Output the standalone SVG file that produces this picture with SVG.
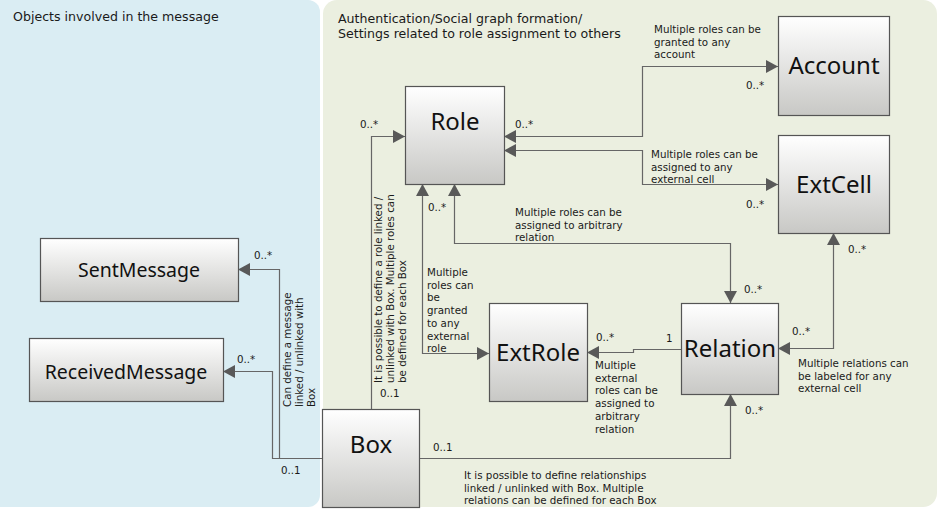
<svg xmlns="http://www.w3.org/2000/svg" width="937" height="512" viewBox="0 0 937 512">
<defs>
<linearGradient id="g" x1="0" y1="0" x2="0" y2="1">
<stop offset="0" stop-color="#ffffff"/>
<stop offset="1" stop-color="#c8c8c5"/>
</linearGradient>
<marker id="a" viewBox="0 0 12 13" refX="12" refY="6.5" markerWidth="12" markerHeight="13" markerUnits="userSpaceOnUse" orient="auto-start-reverse">
<path d="M0,0 L12,6.5 L0,13 z" fill="#595959"/>
</marker>
<style>
.n{fill:url(#g);stroke:#555;stroke-width:1.2}
.nl{font-family:"Noto Sans","DejaVu Sans",sans-serif;font-size:24px;fill:#111;text-anchor:middle}
.nm{font-size:19.5px}
.t{font-family:"DejaVu Sans","Noto Sans",sans-serif;font-size:10.3px;fill:#1a1a1a}
.h{font-family:"DejaVu Sans","Noto Sans",sans-serif;font-size:12.6px;fill:#1a1a1a}
.c{fill:none;stroke:#666;stroke-width:1.2}
.b{marker-start:url(#a);marker-end:url(#a)}
.e{marker-end:url(#a)}
</style>
</defs>
<rect x="0" y="0" width="937" height="512" fill="#ffffff"/>
<g id="panel-messages">
<rect x="-12" y="0" width="332" height="507" rx="12" fill="#daedf3"/>
<text class="h" x="13" y="21">Objects involved in the message</text>
</g>
<g id="panel-auth">
<rect x="323" y="0" width="614" height="507" rx="14" fill="#ebefe0"/>
<text class="h" x="338" y="23">Authentication/Social graph formation/</text>
<text class="h" x="338" y="38">Settings related to role assignment to others</text>
</g>
<g id="connectors">
<path class="c b" d="M504,136.5 H642.5 V66.5 H778"/>
<path class="c b" d="M504,150.5 H642.5 V184.5 H778"/>
<path class="c b" d="M454.5,184 V243.5 H730.5 V303"/>
<path class="c b" d="M422.5,184 V353.5 H489"/>
<path class="c e" d="M371.5,409 V136.5 H405"/>
<path class="c e" d="M322,458.5 H279.5 V269.5 H238"/>
<path class="c e" d="M322,458.5 H272.5 V371.5 H223"/>
<path class="c e" d="M419,458.5 H730.5 V394"/>
<path class="c e" d="M681,349.5 H633.5 V352.5 H587"/>
<path class="c b" d="M778,348.5 H833.5 V233"/>
<text class="t" x="654" y="33">Multiple roles can be</text>
<text class="t" x="654" y="45.5">granted to any</text>
<text class="t" x="654" y="58">account</text>
<text class="t" x="746" y="89">0..*</text>
<text class="t" x="515" y="128">0..*</text>
<text class="t" x="360" y="128">0..*</text>
<text class="t" x="651" y="158">Multiple roles can be</text>
<text class="t" x="651" y="170.5">assigned to any</text>
<text class="t" x="651" y="183">external cell</text>
<text class="t" x="746" y="208">0..*</text>
<text class="t" x="515" y="216">Multiple roles can be</text>
<text class="t" x="515" y="228.5">assigned to arbitrary</text>
<text class="t" x="515" y="241">relation</text>
<text class="t" x="428" y="211">0..*</text>
<text class="t" x="744" y="293">0..*</text>
<text class="t" x="848" y="253">0..*</text>
<text class="t" x="792" y="335">0..*</text>
<text class="t" x="798" y="367">Multiple relations can</text>
<text class="t" x="798" y="379.5">be labeled for any</text>
<text class="t" x="798" y="392">external cell</text>
<text class="t" x="666" y="342">1</text>
<text class="t" x="596" y="341">0..*</text>
<text class="t" x="595" y="369">Multiple</text>
<text class="t" x="595" y="381.7">external</text>
<text class="t" x="595" y="394.4">roles can be</text>
<text class="t" x="595" y="407.1">assigned to</text>
<text class="t" x="595" y="419.8">arbitrary</text>
<text class="t" x="595" y="432.5">relation</text>
<text class="t" x="427" y="276">Multiple</text>
<text class="t" x="427" y="288.7">roles can</text>
<text class="t" x="427" y="301.4">be</text>
<text class="t" x="427" y="314.1">granted</text>
<text class="t" x="427" y="326.8">to any</text>
<text class="t" x="427" y="339.5">external</text>
<text class="t" x="427" y="352.2">role</text>
<text class="t" x="745" y="414">0..*</text>
<text class="t" x="433" y="451">0..1</text>
<text class="t" x="464" y="479">It is possible to define relationships</text>
<text class="t" x="464" y="491.5">linked / unlinked with Box. Multiple</text>
<text class="t" x="464" y="504">relations can be defined for each Box</text>
<text class="t" x="380" y="397">0..1</text>
<text class="t" x="281" y="474">0..1</text>
<text class="t" x="254" y="259">0..*</text>
<text class="t" x="237" y="363">0..*</text>
<g transform="translate(382,383) rotate(-90)">
<text class="t" x="0" y="0">It is possible to define a role linked /</text>
<text class="t" x="0" y="12">unlinked with Box. Multiple roles can</text>
<text class="t" x="0" y="24">be defined for each Box</text>
</g>
<g transform="translate(291,407) rotate(-90)">
<text class="t" x="0" y="0">Can define a message</text>
<text class="t" x="0" y="12">linked / unlinked with</text>
<text class="t" x="0" y="24">Box</text>
</g>
</g>
<g id="node-role"><rect class="n" x="405.5" y="86.5" width="99" height="98"/><text class="nl" x="455" y="130">Role</text></g>
<g id="node-account"><rect class="n" x="778.5" y="16.5" width="111" height="99"/><text class="nl" x="834" y="74">Account</text></g>
<g id="node-extcell"><rect class="n" x="778.5" y="135.5" width="111" height="98"/><text class="nl" x="834" y="193">ExtCell</text></g>
<g id="node-sentmessage"><rect class="n" x="40.5" y="238.5" width="198" height="63"/><text class="nl nm" x="139" y="277">SentMessage</text></g>
<g id="node-receivedmessage"><rect class="n" x="29.5" y="338.5" width="194" height="63"/><text class="nl nm" x="126" y="379">ReceivedMessage</text></g>
<g id="node-extrole"><rect class="n" x="489.5" y="303.5" width="98" height="98"/><text class="nl" x="538" y="361">ExtRole</text></g>
<g id="node-relation"><rect class="n" x="681.5" y="303.5" width="97" height="91"/><text class="nl" x="730" y="357">Relation</text></g>
<g id="node-box"><rect class="n" x="322.5" y="409.5" width="97" height="98"/><text class="nl" x="371" y="453">Box</text></g>
</svg>
